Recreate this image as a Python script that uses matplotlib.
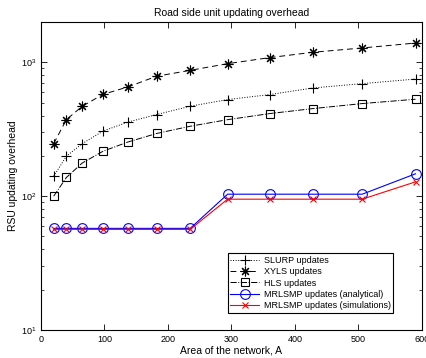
import matplotlib
matplotlib.use("Agg")
import matplotlib.pyplot as plt
from matplotlib.ticker import LogLocator, FixedLocator, NullFormatter

plt.rcParams['font.family'] = ['Liberation Sans', 'DejaVu Sans']

area = [20, 40, 65, 98, 137, 182, 235, 294, 360, 428, 506, 590]
slurp = [141, 199, 247, 307, 358, 407, 470, 527, 574, 643, 693, 750]
xyls = [247, 373, 470, 577, 655, 787, 871, 977, 1084, 1188, 1280, 1393]
hls = [100, 138, 177, 217, 254, 294, 333, 373, 414, 451, 492, 530]
mrl_analytical = [57.5, 57.5, 57.5, 57.5, 57.5, 57.5, 57.5, 103.5, 103.5, 103.5, 103.5, 147]
mrl_simulation = [56.5, 56.5, 56.5, 56.5, 56.5, 56.5, 56.5, 95, 95, 95, 95, 128]

fig = plt.figure(figsize=(4.27, 3.58), dpi=100)
ax = fig.add_axes([0.096, 0.078, 0.892, 0.8605])

ax.plot(area, slurp, color='black', linestyle=':', linewidth=0.7, marker='+',
        markersize=7, markeredgewidth=0.8, label='SLURP updates')
ax.plot(area, xyls, color='black', linestyle=(0, (6, 4)), linewidth=0.7, marker=(8, 2, 0),
        markersize=7, markeredgewidth=0.8, label='XYLS updates')
ax.plot(area, hls, color='black', linestyle='-.', linewidth=0.7, marker='s',
        markersize=5.5, markerfacecolor='none', markeredgewidth=0.8, label='HLS updates')
ax.plot(area, mrl_analytical, color='blue', linestyle='-', linewidth=0.8, marker='o',
        markersize=7, markerfacecolor='none', markeredgewidth=0.8,
        label='MRLSMP updates (analytical)')
ax.plot(area, mrl_simulation, color='red', linestyle='-', linewidth=0.8, marker='x',
        markersize=5, markeredgewidth=0.8, label='MRLSMP updates (simulations)')

ax.set_yscale('log')
ax.set_xlim(0, 600)
ax.set_ylim(10, 2000)
ax.xaxis.set_major_locator(FixedLocator([0, 100, 200, 300, 400, 500, 600]))
ax.yaxis.set_major_locator(LogLocator(base=10, numticks=10))
ax.yaxis.set_minor_locator(LogLocator(base=10, subs=range(2, 10), numticks=20))
ax.yaxis.set_minor_formatter(NullFormatter())

ax.tick_params(which='both', direction='in', top=True, right=True, labelsize=6.5)
ax.tick_params(which='major', length=4, width=0.6)
ax.tick_params(which='minor', length=2, width=0.5)
for s in ax.spines.values():
    s.set_linewidth(0.8)

ax.set_title('Road side unit updating overhead', fontsize=7.5, pad=4)
ax.set_xlabel('Area of the network, A', fontsize=7.5, labelpad=1)
ax.set_ylabel('RSU updating overhead', fontsize=7.5, labelpad=2)

leg = ax.legend(loc='lower right', bbox_to_anchor=(0.93, 0.05), fontsize=6.5,
                frameon=True, fancybox=False, edgecolor='black', framealpha=1,
                borderpad=0.3, labelspacing=0.25, handlelength=3.2, handletextpad=0.5,
                borderaxespad=0.2)
leg.get_frame().set_linewidth(0.8)

fig.savefig('out.png', dpi=100)
